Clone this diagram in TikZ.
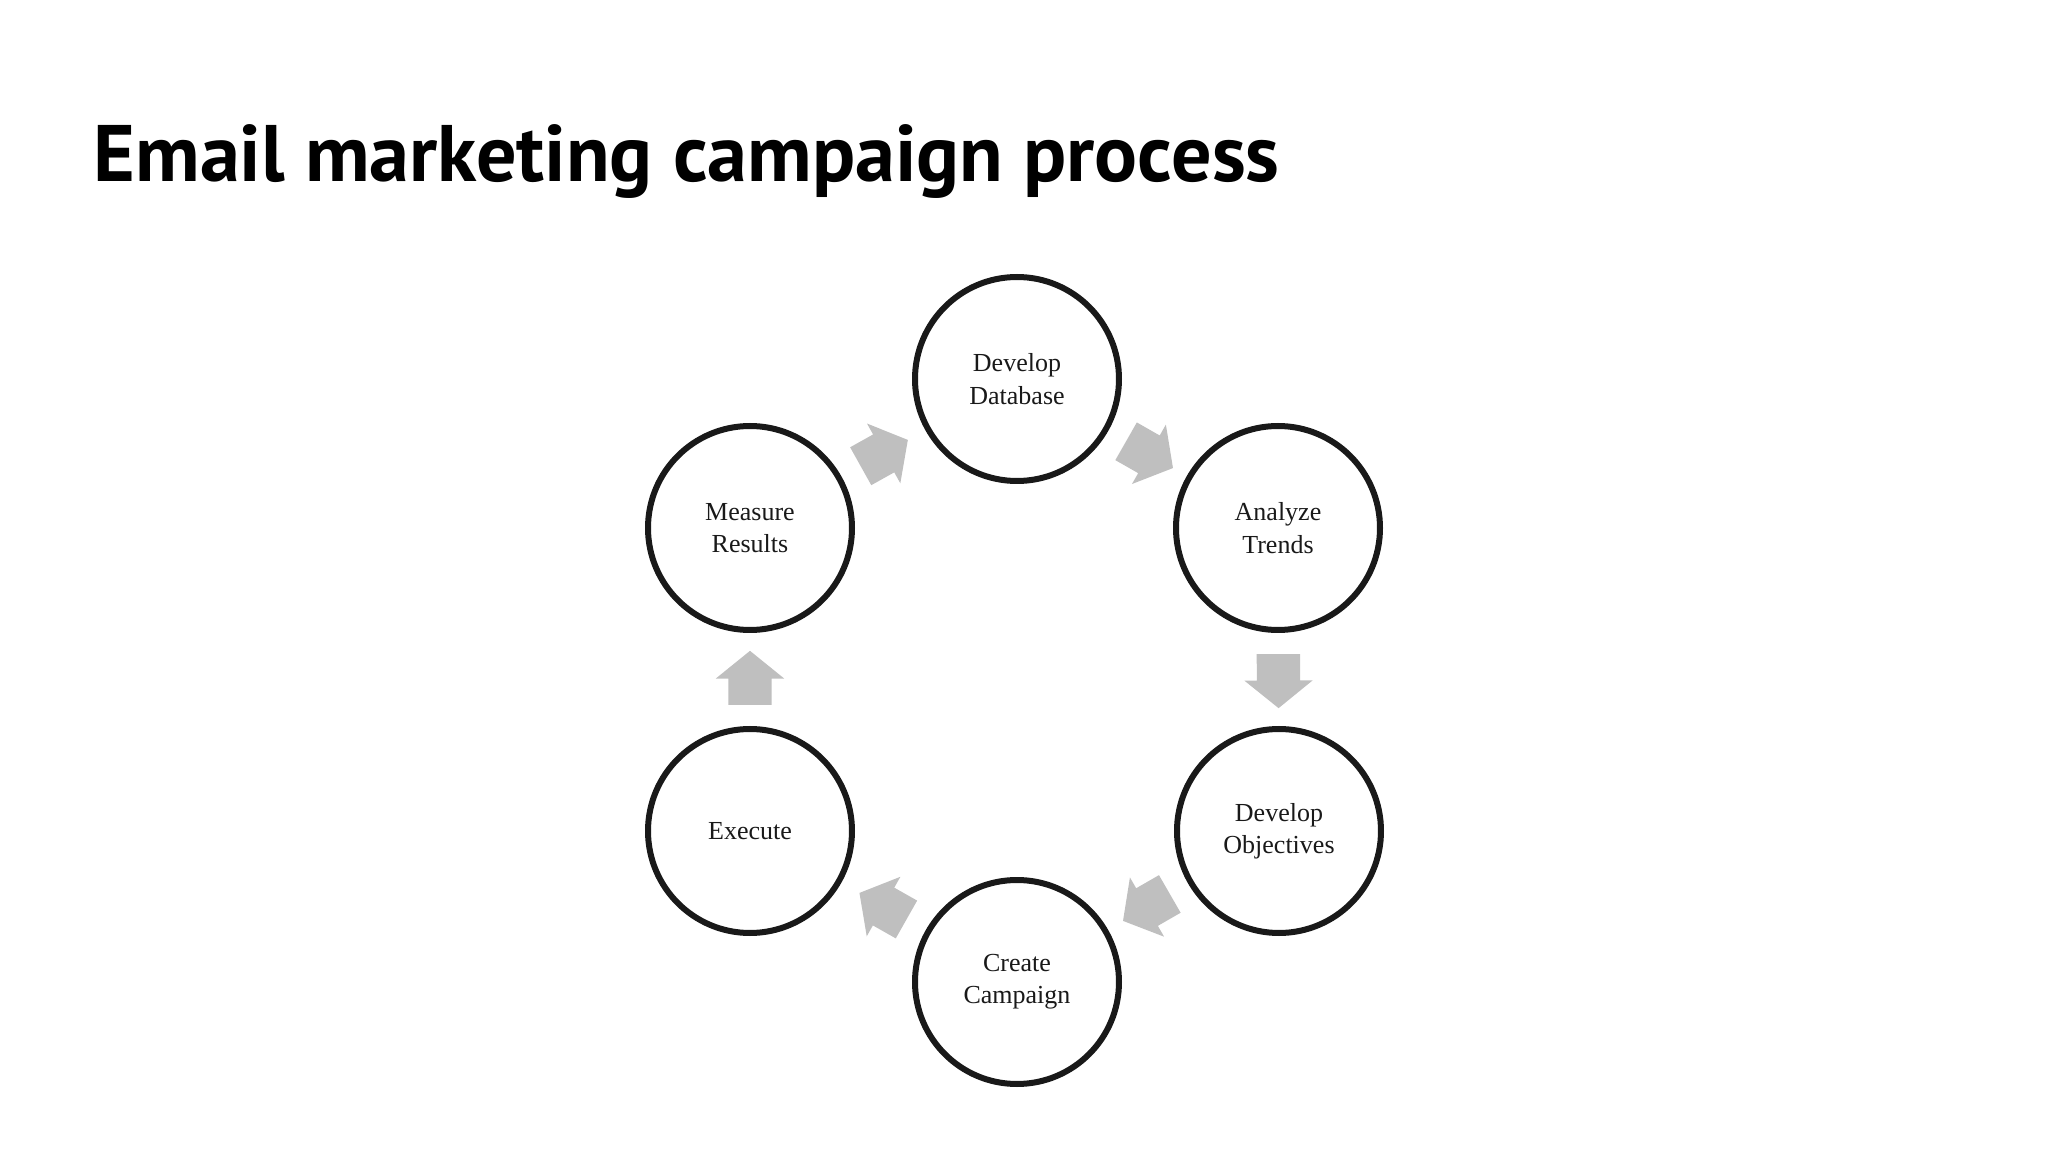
\documentclass[tikz,border=0pt]{standalone}
\usepackage{fontspec}
\setmainfont{Liberation Serif}
\newfontfamily\titlefont{PT Sans}
\usetikzlibrary{shapes.arrows}

\begin{document}
\begin{tikzpicture}[
	stage/.style={circle, draw=black!90, line width=0.06cm, minimum size=2.04cm, inner sep=0pt, align=center, text=black!90, font=\fontsize{7.4}{9.2}\selectfont},
	flow/.style={single arrow, fill=black!25, draw=none, inner xsep=0pt, inner ysep=0.21cm, single arrow head extend=0.125cm, single arrow tip angle=102, minimum height=0.54cm, pos=0.22, anchor=tail, sloped, allow upside down}
	]
			\useasboundingbox (0,0) rectangle (20.48,-11.52);
			\node[anchor=base west, inner sep=0pt, font=\titlefont\bfseries\fontsize{22.8}{26}\selectfont](title) at (0.93,-1.82){Email marketing campaign process};
			\node[stage](db) at (10.17,-3.79){Develop\\Database};
			\node[stage](trends) at (12.78,-5.28){Analyze\\Trends};
			\node[stage](objectives) at (12.79,-8.31){Develop\\Objectives};
			\node[stage](campaign) at (10.17,-9.82){Create\\Campaign};
			\node[stage](execute) at (7.50,-8.31){Execute};
			\node[stage](measure) at (7.50,-5.28){Measure\\Results};
			\path (db) -- (trends) node[flow]{};
			\path (trends) -- (objectives) node[flow]{};
			\path (objectives) -- (campaign) node[flow]{};
			\path (campaign) -- (execute) node[flow]{};
			\path (execute) -- (measure) node[flow]{};
			\path (measure) -- (db) node[flow]{};
			\end{tikzpicture}
\end{document}
